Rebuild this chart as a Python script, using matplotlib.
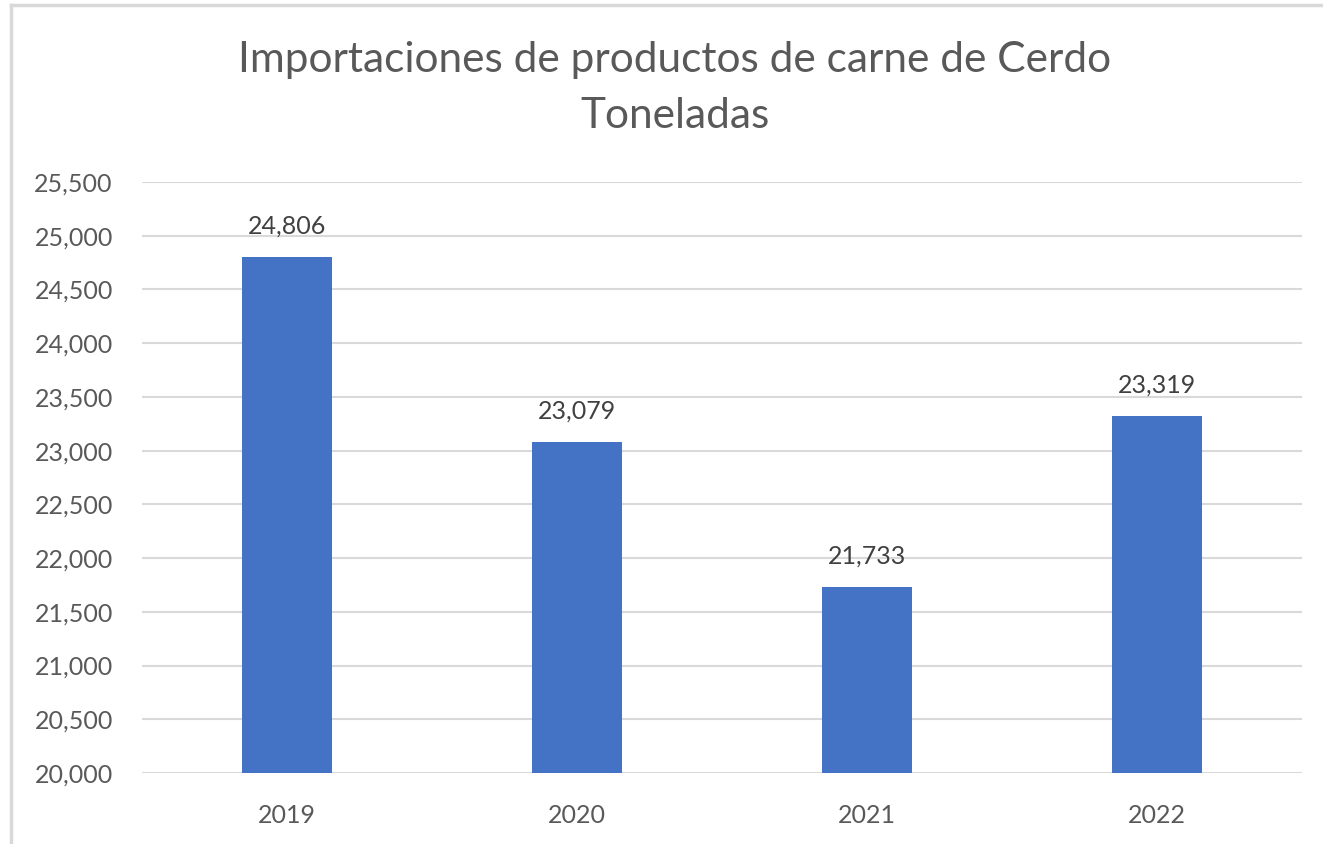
import matplotlib.pyplot as plt
from matplotlib.lines import Line2D
from matplotlib.ticker import FuncFormatter

years = ["2019", "2020", "2021", "2022"]
tons = [24806, 23079, 21733, 23319]
y_ticks = [20000, 20500, 21000, 21500, 22000, 22500, 23000, 23500, 24000, 24500, 25000, 25500]

text_gray = "#595959"
bar_blue = "#4472C4"
grid_gray = "#D9D9D9"

plt.rcParams['font.family'] = ['Lato', 'DejaVu Sans']

fig = plt.figure(figsize=(13.23, 8.44), dpi=100)
ax = fig.add_axes([142/1323, 1 - 773/844, 1160/1323, 591/844])

x = range(len(years))
bars = ax.bar(x, tons, width=0.31, color=bar_blue, zorder=3)
ax.set_xlim(-0.5, len(years) - 0.5)
ax.set_ylim(y_ticks[0], y_ticks[-1])
ax.set_yticks(y_ticks)
ax.yaxis.set_major_formatter(FuncFormatter(lambda v, p: f"{int(v):,}"))
ax.set_xticks(list(x))
ax.set_xticklabels(years)

ax.grid(axis='y', color=grid_gray, linewidth=1.5, zorder=0)
for s in ax.spines.values():
    s.set_visible(False)
ax.tick_params(axis='both', length=0, colors=text_gray, labelsize=18)
ax.tick_params(axis='y', pad=21)
ax.tick_params(axis='x', pad=22)

for b, v in zip(bars, tons):
    ax.annotate(f"{v:,}", (b.get_x() + b.get_width() / 2, v), xytext=(0, 14),
                textcoords='offset points', ha='center', va='bottom',
                fontsize=18, color="#404040")

fig.text(675/1323, 1 - 88/844, "Importaciones de productos de carne de Cerdo\nToneladas",
         ha='center', va='center', fontsize=30.5, color=text_gray, linespacing=1.55)

# chart frame (left and top edges visible in the crop)
fig.add_artist(Line2D([11/1323, 11/1323], [0, 1 - 5/844], color=grid_gray, linewidth=2.5,
                      transform=fig.transFigure))
fig.add_artist(Line2D([11/1323, 1], [1 - 5/844, 1 - 5/844], color=grid_gray, linewidth=2.5,
                      transform=fig.transFigure))

fig.savefig("out.png", dpi=100)
